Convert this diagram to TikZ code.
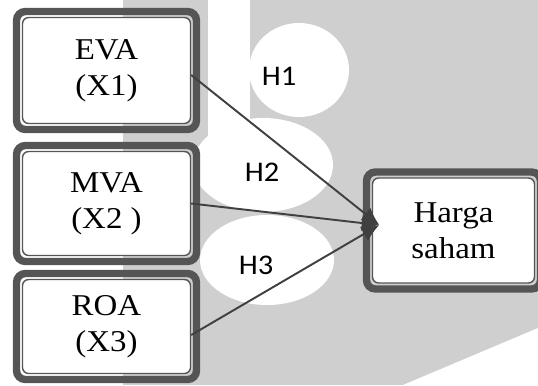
\documentclass[tikz,border=0pt]{standalone}
\usepackage{fontspec}
\setmainfont{Liberation Serif}[FakeStretch=1.09]
\newfontfamily\labelfont{Carlito}[FakeStretch=1.07]
\usetikzlibrary{arrows.meta,shapes.geometric,fit,calc}
\definecolor{bggrey}  {RGB}{207,207,207}
\definecolor{rimgrey} {RGB}{ 85, 85, 85}
\definecolor{linegrey}{RGB}{ 64, 64, 64}

\begin{document}
\begin{tikzpicture}[
  every node/.style={font=\fontsize{17.2}{20.5}\selectfont},
  var/.style={draw=rimgrey,line width=0.8pt,rounded corners=3.5pt,fill=white,
              minimum width=3.36cm,align=center,inner sep=0pt},
  rim/.style={draw=rimgrey,line width=4.2pt,rounded corners=5pt,inner sep=3pt},
  hlab/.style={font=\labelfont\fontsize{16.2}{19}\selectfont},
  link/.style={draw=linegrey,line width=1.1pt,-{Latex[length=10pt,width=9pt]}},
]

%% Background
\useasboundingbox (0,0) rectangle (10.76,-7.7);
\fill[bggrey] (2.46,0) rectangle (10.76,-7.7);
\fill[white] (10.76,-6.56) -- (8.06,-7.7) -- (10.76,-7.7) -- cycle;
\fill[white] (4.16,0) rectangle (5.0,-2.9);
\fill[white] (5.98,-1.40) ellipse [x radius=1.0cm, y radius=0.94cm];
\fill[white] (5.26,-3.30) ellipse [x radius=1.4cm, y radius=0.94cm];
\fill[white] (5.34,-5.20) ellipse [x radius=1.34cm,y radius=0.90cm];

%% Hypothesis labels
\node[hlab] (h1) at (5.58,-1.52) {H1};
\node[hlab] (h2) at (5.24,-3.44) {H2};
\node[hlab] (h3) at (5.12,-5.30) {H3};

%% Variables
\node[var,minimum height=2.12cm] (eva) at (2.13,-1.41) {EVA\\(X1)};
\node[var,minimum height=2.08cm] (mva) at (2.13,-4.07) {MVA\\(X2 )};
\node[var,minimum height=1.88cm] (roa) at (2.13,-6.53) {ROA\\(X3)};
\node[var,minimum width=3.24cm,minimum height=2.10cm] (harga) at (9.07,-4.61)
  {Harga\\saham};

\foreach \b in {eva,mva,roa,harga}
  \node[rim,fit=(\b)] (\b-rim) {};

%% Links
\coordinate (tip) at ([shift={(0.15,0.11)}]harga.west);
\draw[link] ([yshift=-0.09cm]eva.east) -- (tip);
\draw[link] (mva.east) -- (tip);
\draw[link] ([yshift=-0.17cm]roa.east) -- (tip);

\end{tikzpicture}
\end{document}
